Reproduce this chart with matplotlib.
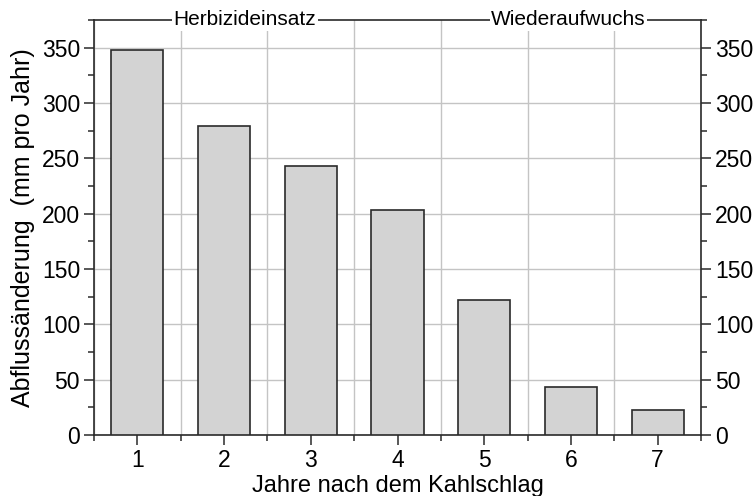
import matplotlib.pyplot as plt
from matplotlib.ticker import MultipleLocator

plt.rcParams['font.family'] = ['Liberation Sans', 'DejaVu Sans']

jahre = [1, 2, 3, 4, 5, 6, 7]
abfluss = [348, 279, 243, 203, 122, 43, 23]
phasen = ['Herbizideinsatz', 'Wiederaufwuchs']
phasen_x = [2.24, 5.97]

fig = plt.figure(figsize=(7.53, 4.96), dpi=100)
ax = fig.add_axes([0.1248, 0.123, 0.8062, 0.837])

ax.bar(jahre, abfluss, width=0.6, color='#d3d3d3', edgecolor='#2a2a2a',
       linewidth=1.2, zorder=3)

ax.set_xlim(0.5, 7.5)
ax.set_ylim(0, 375)

ax.xaxis.set_major_locator(MultipleLocator(1))
ax.xaxis.set_minor_locator(MultipleLocator(0.5))
ax.yaxis.set_major_locator(MultipleLocator(50))
ax.yaxis.set_minor_locator(MultipleLocator(25))

# vertical grid between the bars, horizontal grid at every 50
ax.grid(True, axis='x', which='minor', color='#c4c4c4', linewidth=1, zorder=0)
ax.grid(True, axis='y', which='major', color='#c4c4c4', linewidth=1, zorder=0)

ax.tick_params(axis='both', which='major', direction='out', length=7,
               width=1.1, labelsize=16.5, color='#2a2a2a', pad=3)
ax.tick_params(axis='both', which='minor', direction='out', length=4,
               width=1.1, color='#2a2a2a')
ax.tick_params(axis='y', which='both', right=True, labelright=True)
ax.tick_params(axis='x', which='both', top=False)

for s in ax.spines.values():
    s.set_linewidth(1.2)
    s.set_color('#2a2a2a')

ax.set_xlabel('Jahre nach dem Kahlschlag', fontsize=17, labelpad=2)
ax.set_ylabel('Abflussänderung  (mm pro Jahr)', fontsize=18, labelpad=5)

for name, x in zip(phasen, phasen_x):
    ax.text(x, 1.0, name, transform=ax.get_xaxis_transform(), ha='center',
            va='center', fontsize=15, clip_on=False, zorder=5,
            bbox=dict(facecolor='white', edgecolor='none', pad=1))

fig.savefig('out.png', dpi=100)
